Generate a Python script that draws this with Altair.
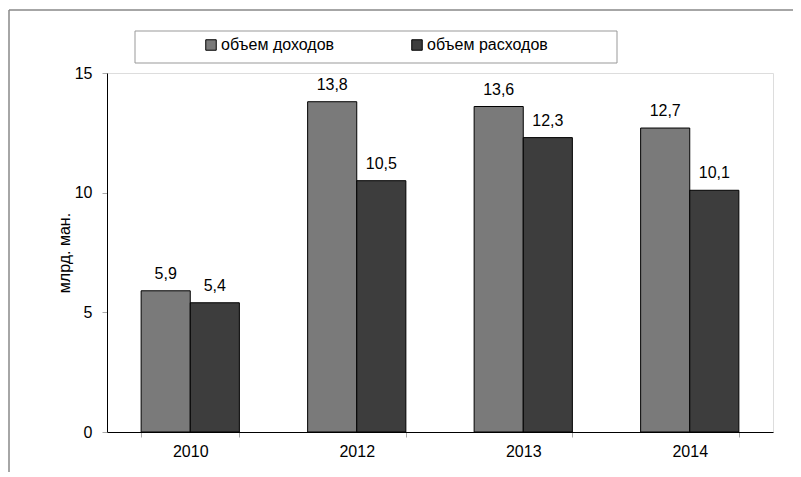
import altair as alt
import pandas as pd

years = ["2010", "2012", "2013", "2014"]
income = [5.9, 13.8, 13.6, 12.7]
expense = [5.4, 10.5, 12.3, 10.1]
series = ["объем доходов", "объем расходов"]
colors = ["#7a7a7a", "#3d3d3d"]

rows = []
for y, a, b in zip(years, income, expense):
    rows.append({"year": y, "series": series[0], "value": a})
    rows.append({"year": y, "series": series[1], "value": b})
df = pd.DataFrame(rows)

W, H = 666, 359
FONT = "Liberation Sans"
yscale = alt.Scale(domain=[0, 15], nice=False)

base = alt.Chart(df).encode(
    x=alt.X("year:N", sort=years, title=None,
            scale=alt.Scale(paddingInner=0.41, paddingOuter=0.205),
            axis=alt.Axis(labelAngle=0, tickBand="extent", tickColor="#aaaaaa",
                          tickSize=5, domainColor="#000000", labelFontSize=16,
                          labelPadding=6, labelColor="#000000", labelFont=FONT)),
    xOffset=alt.XOffset("series:N", sort=series, scale=alt.Scale(paddingInner=0, paddingOuter=0)),
)

bars = base.mark_bar(stroke="#000000", strokeWidth=1).encode(
    y=alt.Y("value:Q", title="млрд. ман.", scale=yscale,
            axis=alt.Axis(values=[0, 5, 10, 15], grid=False, tickColor="#aaaaaa",
                          tickSize=5, domainColor="#000000", labelFontSize=16,
                          labelPadding=10, labelColor="#000000", labelFont=FONT,
                          titleFontSize=16, titleFontWeight="normal", titleFont=FONT,
                          titleColor="#000000", titlePadding=2)),
    color=alt.Color("series:N", sort=series,
                    scale=alt.Scale(domain=series, range=colors),
                    legend=alt.Legend(orient="none", legendX=96, legendY=-36,
                                      direction="horizontal", title=None,
                                      symbolType="square", symbolSize=110,
                                      symbolStrokeColor="#000000", symbolStrokeWidth=1,
                                      labelFontSize=16, labelFont=FONT, labelColor="#000000",
                                      labelOffset=2, columnPadding=74, padding=0)),
)

labels = base.mark_text(baseline="bottom", dy=-9, fontSize=16, font=FONT, color="#000000").encode(
    y=alt.Y("value:Q", scale=yscale),
    text=alt.Text("label:N"),
).transform_calculate(label="replace(format(datum.value, '.1f'), '.', ',')")

legend_box = alt.Chart(pd.DataFrame({"a": [0]})).mark_rect(
    fill="white", stroke="#999999", strokeWidth=1
).encode(x=alt.value(28), x2=alt.value(510), y=alt.value(-42), y2=alt.value(-10))

border_top = alt.Chart(pd.DataFrame({"a": [0]})).mark_rule(color="#888888", strokeWidth=1.5).encode(
    x=alt.value(-98), x2=alt.value(700), y=alt.value(-63))
border_left = alt.Chart(pd.DataFrame({"a": [0]})).mark_rule(color="#888888", strokeWidth=1.5).encode(
    x=alt.value(-98), y=alt.value(-63), y2=alt.value(420))

chart = alt.layer(border_top, border_left, legend_box, bars, labels).properties(
    width=W, height=H,
    autosize=alt.AutoSizeParams(type="none"),
    padding={"left": 99, "top": 65, "right": 20, "bottom": 40},
).configure_view(stroke=None).configure(background="white")

chart.save("out.html", embed_options={"renderer": "svg", "actions": False})
